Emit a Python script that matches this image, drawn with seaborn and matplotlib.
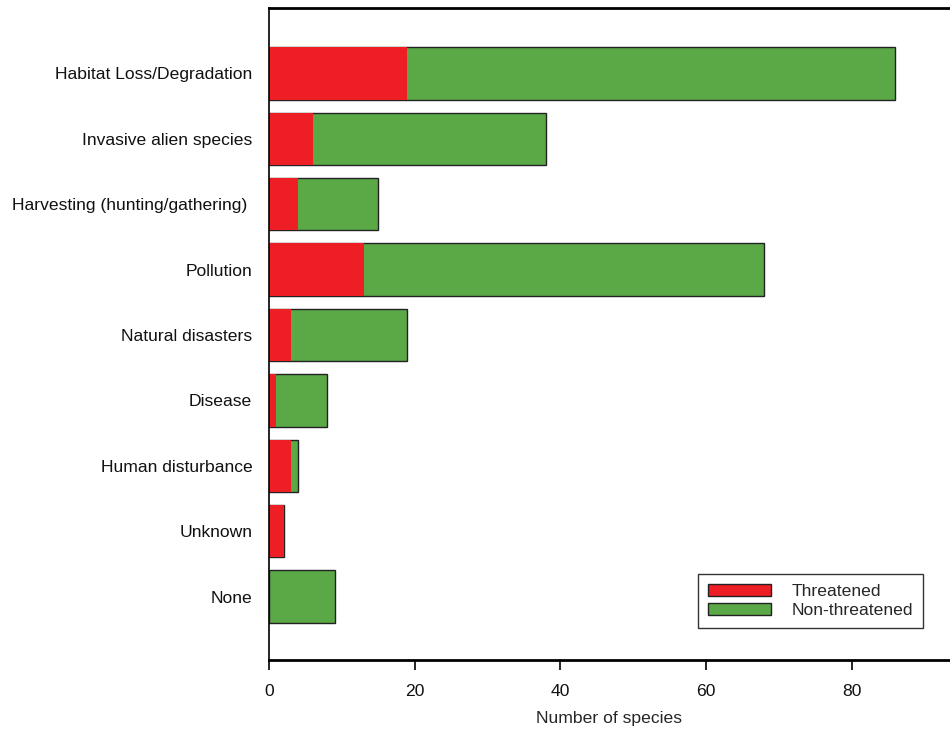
import matplotlib
matplotlib.use("Agg")
import matplotlib.pyplot as plt
import seaborn as sns
import pandas as pd
from matplotlib.patches import Patch

categories = ["Habitat Loss/Degradation", "Invasive alien species",
              "Harvesting (hunting/gathering) ", "Pollution", "Natural disasters",
              "Disease", "Human disturbance", "Unknown", "None"]
threatened = [19, 6, 4, 13, 3, 1, 3, 2, 0]
non_threatened = [67, 32, 11, 55, 16, 7, 1, 0, 9]

sns.set_style("white")
plt.rcParams['font.family'] = ['Liberation Sans', 'DejaVu Sans']

df = pd.DataFrame({"category": categories,
                   "threatened": threatened,
                   "non_threatened": non_threatened})
df["total"] = df["threatened"] + df["non_threatened"]

RED = "#ee1f24"
GREEN = "#5ba946"
EDGE = "#222222"
FS = 12.6

fig = plt.figure(figsize=(9.5, 7.38), dpi=100)
ax = fig.add_axes([269/950, 1-660/738, 1-269/950, (660-8)/738])

sns.barplot(data=df, y="category", x="total", color=GREEN, orient="h",
            width=0.8, edgecolor=EDGE, linewidth=1.0, ax=ax, saturation=1)
sns.barplot(data=df, y="category", x="threatened", color=RED, orient="h",
            width=0.8, edgecolor="none", linewidth=0, ax=ax, saturation=1)
for p in ax.patches[len(categories):]:
    p.set_edgecolor("none")

ax.set_xlim(0, 93.5)
ax.set_ylim(8.97, -1.0)
ax.set_xticks([0, 20, 40, 60, 80])
ax.set_ylabel("")
ax.set_xlabel("Number of species", fontsize=FS, labelpad=9)
ax.tick_params(axis="x", direction="out", length=7, width=1.2, color="black",
               labelsize=FS, pad=10, bottom=True, labelcolor="#111111")
ax.tick_params(axis="y", length=0, labelsize=FS, pad=12, labelcolor="#111111")

ax.spines["right"].set_visible(False)
for s in ["left", "top", "bottom"]:
    ax.spines[s].set_color("black")
ax.spines["left"].set_linewidth(1.2)
ax.spines["top"].set_linewidth(2)
ax.spines["bottom"].set_linewidth(2)

handles = [Patch(facecolor=RED, edgecolor=EDGE, label="Threatened"),
           Patch(facecolor=GREEN, edgecolor=EDGE, label="Non-threatened")]
leg = ax.legend(handles=handles, loc="lower right", fontsize=FS, frameon=True,
                fancybox=False, edgecolor="black", handlelength=3.6,
                handleheight=0.7, borderpad=0.55, labelspacing=0.25,
                handletextpad=1.2, borderaxespad=0)
leg.get_frame().set_linewidth(1.0)
leg.set_bbox_to_anchor((923/950, 1-628/738), transform=fig.transFigure)

fig.savefig("out.png", dpi=100)
